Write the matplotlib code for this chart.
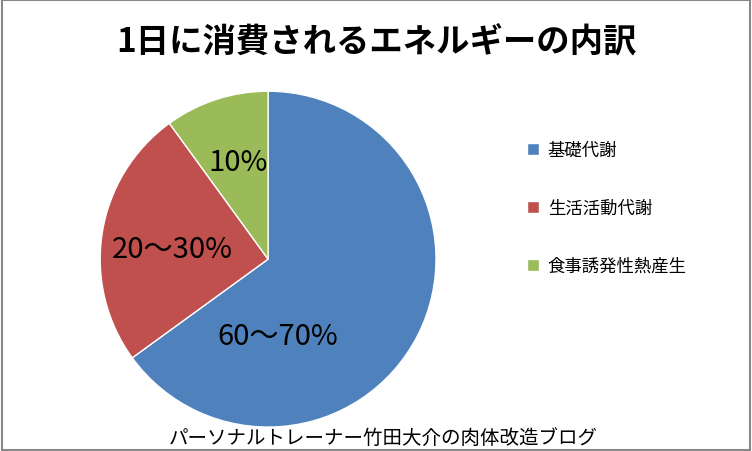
import matplotlib.pyplot as plt
from matplotlib.patches import Rectangle

plt.rcParams['font.family'] = ['Noto Sans CJK JP', 'DejaVu Sans']

categories = ['基礎代謝', '生活活動代謝', '食事誘発性熱産生']
shares = [65, 25, 10]
slice_labels = ['60～70%', '20～30%', '10%']
colors = ['#4f81bd', '#c0504d', '#9bbb59']

fig = plt.figure(figsize=(7.52, 4.52), dpi=100)
fig.patches.append(Rectangle((0.002, 0.002), 0.996, 0.996, transform=fig.transFigure,
                             fill=False, edgecolor='#888888', linewidth=1.5))

ax = fig.add_axes([0.133, 0.053, 0.447, 0.743])
wedges, _ = ax.pie(shares, colors=colors, startangle=90, counterclock=False,
                   wedgeprops=dict(edgecolor='white', linewidth=1))
ax.set_xlim(-1, 1)
ax.set_ylim(-1, 1)
ax.set_aspect('equal')

# label positions inside each slice, in pie data units
label_pos = [(0.06, -0.46), (-0.57, 0.06), (-0.18, 0.58)]
for txt, (x, y) in zip(slice_labels, label_pos):
    ax.text(x, y, txt, ha='center', va='center', fontsize=21, color='black')

fig.text(0.5, 0.905, '1日に消費されるエネルギーの内訳', ha='center', va='center',
         fontsize=24, fontweight='bold')
fig.text(0.51, 0.03, 'パーソナルトレーナー竹田大介の肉体改造ブログ', ha='center',
         va='center', fontsize=14)

fig.legend(wedges, categories, loc='upper left', bbox_to_anchor=(0.68, 0.72),
           frameon=False, labelspacing=2.3, handlelength=0.7, handleheight=0.7,
           handletextpad=0.5, fontsize=12.5)

fig.savefig('out.png', dpi=100)
